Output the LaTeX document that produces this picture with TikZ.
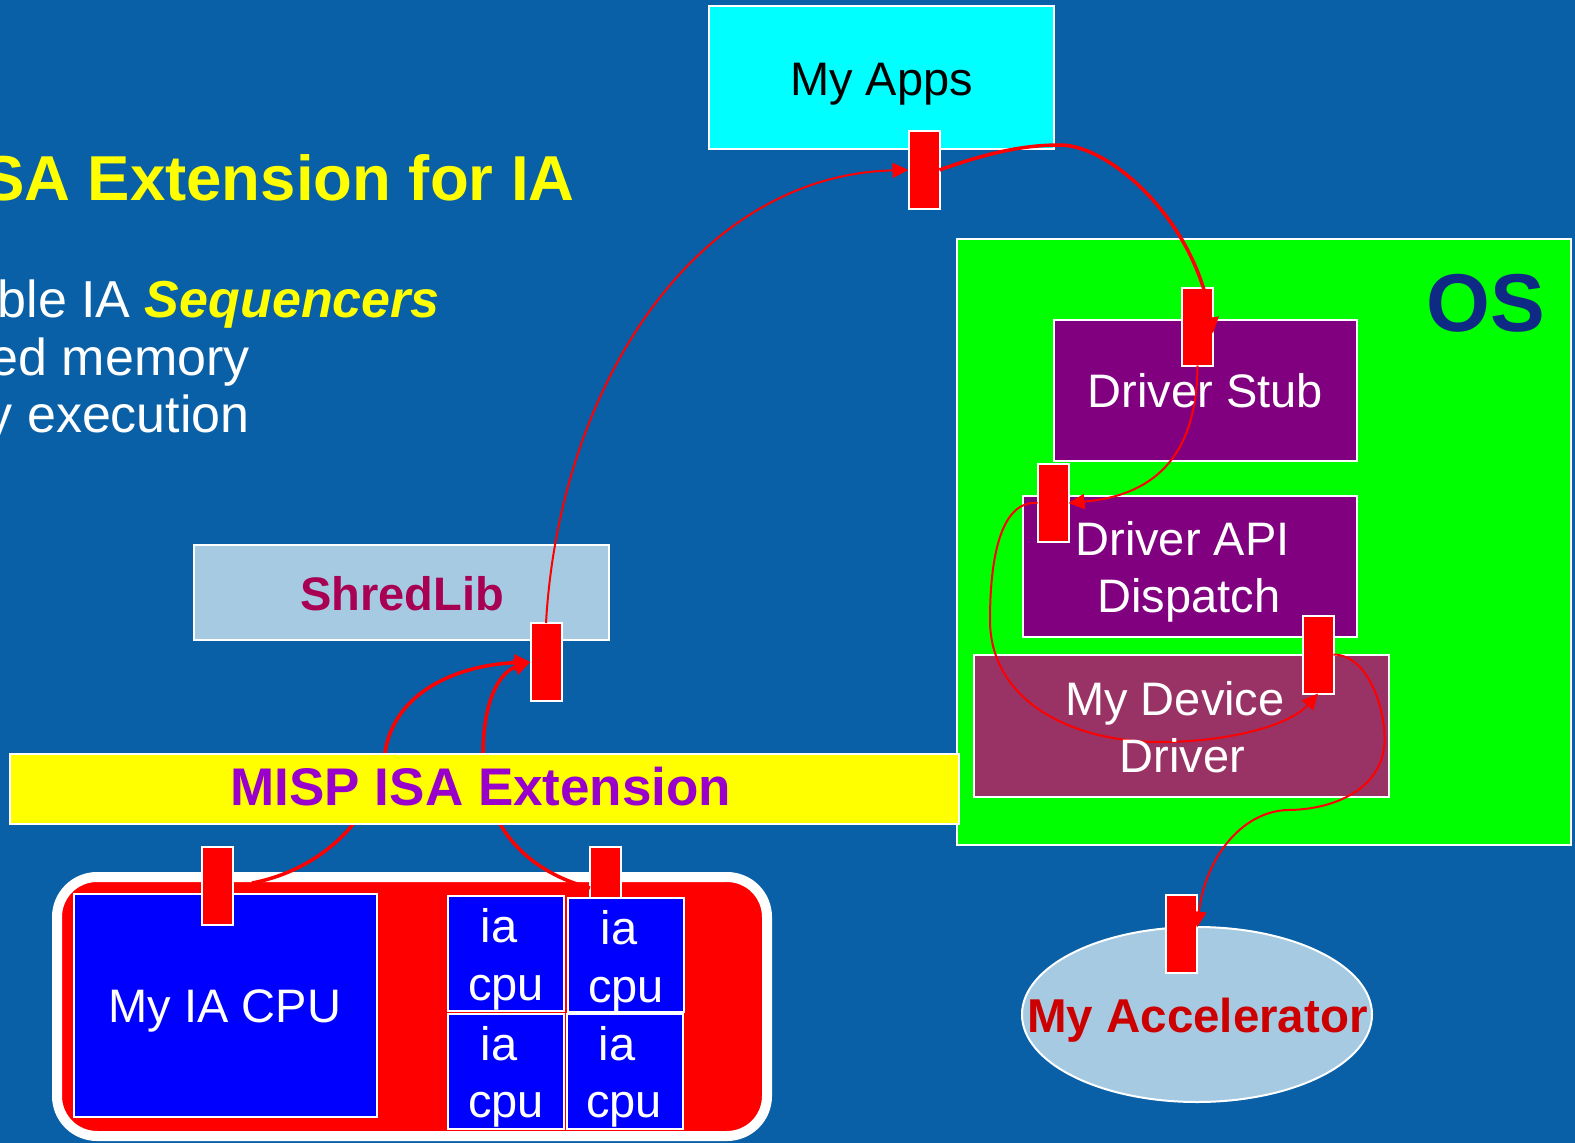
\documentclass[tikz,border=0pt]{standalone}
\usepackage{fontspec}
\setmainfont{Liberation Sans}
\usetikzlibrary{arrows.meta,shapes.geometric,calc}

\definecolor{bgblue}{RGB}{9,96,166}
\definecolor{appsCyan}{RGB}{0,255,255}
\definecolor{osGreen}{RGB}{0,255,0}
\definecolor{drvPurple}{RGB}{128,0,128}
\definecolor{devMaroon}{RGB}{153,51,102}
\definecolor{paleBlue}{RGB}{166,202,226}
\definecolor{shredText}{RGB}{168,0,82}
\definecolor{mispText}{RGB}{153,0,204}
\definecolor{accText}{RGB}{204,0,0}
\definecolor{osText}{RGB}{14,42,132}
\definecolor{cpuBlue}{RGB}{0,0,255}
\definecolor{titleYellow}{RGB}{255,255,0}

\begin{document}
\begin{tikzpicture}[x=1pt,y=-1pt,
  box/.style={rectangle, draw=white, line width=2pt, inner sep=0pt, outer sep=0pt},
  tab/.style={rectangle, draw=white, line width=2pt, fill=red, inner sep=0pt, outer sep=0pt,
              minimum width=31pt, minimum height=78pt},
  lbl/.style={text=white, font=\fontsize{47pt}{57pt}\selectfont, inner sep=0pt, anchor=base},
  boldlbl/.style={lbl, font=\fontsize{47pt}{57pt}\selectfont\bfseries},
  bodytxt/.style={text=white, font=\fontsize{52pt}{57pt}\selectfont, inner sep=0pt, anchor=base east},
  flow/.style={draw=red, line width=3.5pt, -{Triangle[length=16pt,width=16pt]}},
  thinflow/.style={draw=red, line width=2pt, -{Triangle[length=16pt,width=15pt]}}]

\useasboundingbox (0,0) rectangle (1575,1143);
\clip (0,0) rectangle (1575,1143);
\fill[bgblue] (0,0) rectangle (1575,1143);

% slide heading and bullet fragments
\node[anchor=base east, inner sep=0pt, text=titleYellow,
      font=\fontsize{63.5pt}{70pt}\selectfont\bfseries] (title) at (575,200) {SA Extension for IA};
\node[bodytxt] (bullet1) at (440,317) {ble IA \textcolor{titleYellow}{\bfseries\itshape Sequencers}};
\node[bodytxt] (bullet2) at (250,375) {ed memory};
\node[bodytxt] (bullet3) at (250,432) {y execution};

% applications and OS stack
\node[box, fill=appsCyan, minimum width=345pt, minimum height=143pt] (apps) at (881.5,77.5) {};
\node[box, fill=osGreen, minimum width=614pt, minimum height=606pt] (os) at (1264,542) {};
\node[box, fill=drvPurple, minimum width=303pt, minimum height=141pt] (stub) at (1205.5,390.5) {};
\node[box, fill=drvPurple, minimum width=334pt, minimum height=141pt] (api) at (1190,566.5) {};
\node[box, fill=devMaroon, minimum width=415pt, minimum height=142pt] (dev) at (1181.5,726) {};

% ShredLib
\node[box, fill=paleBlue, minimum width=415pt, minimum height=95pt] (shred) at (401.5,592.5) {};

% processor package
\node[rectangle, draw=white, fill=red, line width=10pt, rounded corners=40pt,
      minimum width=710pt, minimum height=259pt, inner sep=0pt, outer sep=0pt] (chip) at (412,1006.5) {};
\node[box, fill=cpuBlue, minimum width=303pt, minimum height=223pt] (cpu) at (225.5,1005.5) {};
% the tab of the small cores sits behind their boxes
\node[tab] (tabIA) at (605.5,886) {};
\node[box, fill=cpuBlue, minimum width=116pt, minimum height=115pt] (ia1) at (506,953.5) {};
\node[box, fill=cpuBlue, minimum width=116pt, minimum height=114pt] (ia2) at (626,955) {};
\node[box, fill=cpuBlue, minimum width=116pt, minimum height=115pt] (ia3) at (506,1071.5) {};
\node[box, fill=cpuBlue, minimum width=116pt, minimum height=115pt] (ia4) at (625,1071.5) {};

% accelerator
\node[ellipse, draw=white, line width=2pt, fill=paleBlue, inner sep=0pt, outer sep=0pt,
      minimum width=350pt, minimum height=175pt] (acc) at (1197,1014.5) {};

% red interface tabs
\node[tab] (tabApps)  at (924,170) {};
\node[tab] (tabStub)  at (1197.5,326.5) {};
\node[tab] (tabAPI)   at (1053,503) {};
\node[tab] (tabDev)   at (1318,654.5) {};
\node[tab] (tabShred) at (546,662) {};
\node[tab] (tabCPU)   at (217.5,886) {};
\node[tab] (tabAcc)   at (1181.5,933.5) {};

% calls from the processors into ShredLib (pass under the ISA bar)
\draw[flow] ($(tabCPU.east)+(19,-3)$) .. controls (320,870) and (375,820) .. (385,752)
            .. controls (395,690) and (460,665) .. (tabShred.west);
\draw[flow] ($(tabIA.west)+(0,2)$) .. controls (530,872) and (485,830) .. (483,760)
            .. controls (482,700) and (500,672) .. (tabShred.west);

% ISA extension bar
\node[box, fill=titleYellow, minimum width=949pt, minimum height=70pt] (misp) at (484.5,789) {};

% remaining call chain
\draw[thinflow] (tabShred.north) .. controls (560,380) and (700,175) .. (tabApps.west);
\draw[flow] (tabApps.east) .. controls (990,152) and (1025,145) .. (1060,145)
            .. controls (1110,145) and (1195,220) .. ($(tabStub.east)+(0,7)$);
\draw[thinflow] (tabStub.south) .. controls (1197,450) and (1160,495) .. (tabAPI.east);
\draw[thinflow] (tabAPI.west) .. controls (1000,500) and (990,560) .. (990,620)
            .. controls (990,700) and (1070,742) .. (1160,742)
            .. controls (1230,742) and (1290,725) .. (tabDev.south);
\draw[thinflow] (tabDev.east) .. controls (1372,655) and (1388,720) .. (1384,748)
            .. controls (1378,792) and (1330,810) .. (1287,810)
            .. controls (1240,812) and (1205,860) .. ($(tabAcc.east)+(0,-6)$);

% labels
\node[lbl, text=black] (appsL) at (881.5,95) {My Apps};
\node[anchor=base east, inner sep=0pt, text=osText,
      font=\fontsize{82pt}{90pt}\selectfont\bfseries] (osL) at (1545,331) {OS};
\node[lbl] (stubL) at (1205.5,407) {Driver Stub};
\node[lbl] (apiL1) at (1182.5,555) {Driver API};
\node[lbl] (apiL2) at (1189,612) {Dispatch};
\node[lbl] (devL1) at (1175,715) {My Device};
\node[lbl] (devL2) at (1182.5,772) {Driver};
\node[boldlbl, text=shredText] (shredL) at (402,610) {ShredLib};
\node[lbl, font=\fontsize{53pt}{57pt}\selectfont\bfseries, text=mispText] (mispL) at (481,805) {MISP ISA Extension};
\node[lbl] (cpuL) at (225,1022) {My IA CPU};
\node[lbl] (ia1a) at (499,942) {ia};
\node[lbl] (ia1b) at (506,1000) {cpu};
\node[lbl] (ia2a) at (619,944) {ia};
\node[lbl] (ia2b) at (626,1002) {cpu};
\node[lbl] (ia3a) at (499,1060) {ia};
\node[lbl] (ia3b) at (506,1117) {cpu};
\node[lbl] (ia4a) at (617,1060) {ia};
\node[lbl] (ia4b) at (624,1117) {cpu};
\node[lbl, font=\fontsize{47.5pt}{57pt}\selectfont\bfseries, text=accText] (accL) at (1197.5,1032) {My Accelerator};

\end{tikzpicture}
\end{document}
